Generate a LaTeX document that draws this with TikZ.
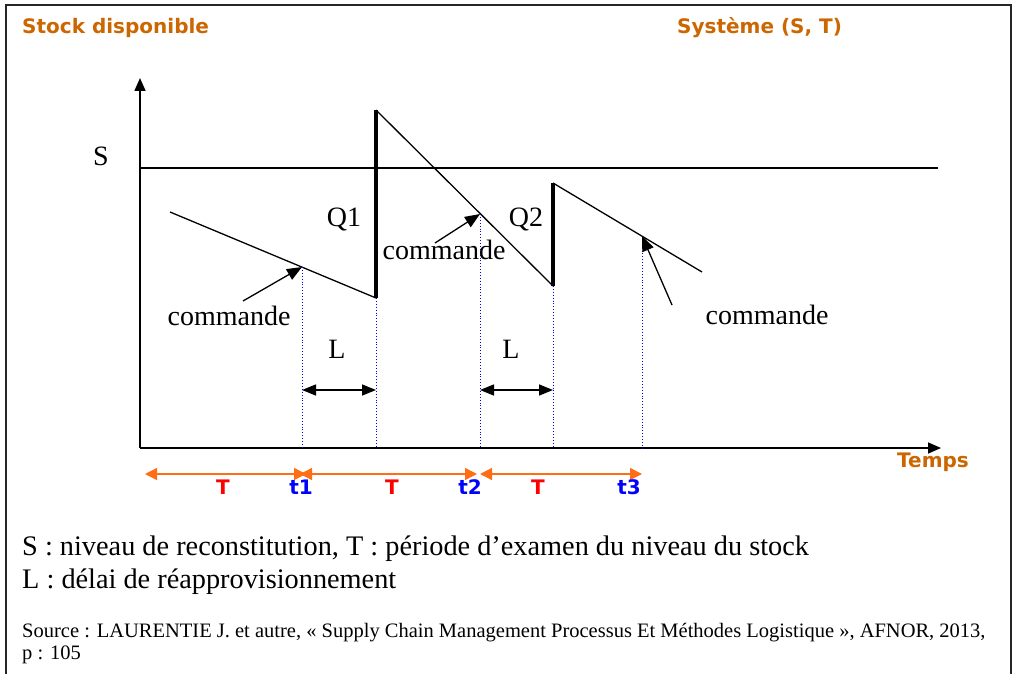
\documentclass[tikz,border=0pt]{standalone}
\usepackage{fontspec}
\setmainfont{Liberation Serif}
\newfontfamily\hdfont{DejaVu Sans}
\usetikzlibrary{arrows.meta}
\definecolor{hdorange}{RGB}{204,102,0}
\definecolor{arrorange}{RGB}{255,110,20}
\begin{document}
\begin{tikzpicture}[x=1pt,y=-1pt,
  axis/.style={line width=1.6pt,-{Triangle[width=11pt,length=13pt]}},
  curve/.style={line width=1.3pt},
  qline/.style={line width=4pt},
  guide/.style={blue,dotted,line width=0.9pt},
  larrow/.style={line width=1.5pt,{Triangle[width=11pt,length=14pt]}-{Triangle[width=11pt,length=14pt]}},
  cmdarrow/.style={line width=1.3pt,-{Triangle[width=12pt,length=15pt]}},
  tarrow/.style={arrorange,line width=1.4pt,{Triangle[width=12pt,length=12pt]}-{Triangle[width=12pt,length=12pt]}},
  lbl/.style={font=\fontsize{28}{30}\selectfont,inner sep=0pt,anchor=base},
  hdlbl/.style={font=\hdfont\bfseries\fontsize{20}{22}\selectfont,text=hdorange,inner sep=0pt,anchor=base west},
  tlbl/.style={font=\hdfont\bfseries\fontsize{20}{22}\selectfont,inner sep=0pt,anchor=base},
  body/.style={font=\fontsize{28.3}{30}\selectfont,inner sep=0pt,anchor=base west},
  src/.style={font=\fontsize{20.5}{22}\selectfont,inner sep=0pt,anchor=base west}
]
\useasboundingbox (0,0) rectangle (1014,674);
% frame
\draw[line width=2pt,black!85] (6,674) -- (6,5) -- (1011,5) -- (1011,674);

% headers
\node[hdlbl] (h1) at (22,34) {Stock disponible};
\node[hdlbl] (h2) at (677,34) {Système (S, T)};

% axes
\coordinate (O) at (140,448);
\coordinate (ytop) at (140,78);
\coordinate (xend) at (941,448);
\draw[axis] (O) -- (ytop);
\draw[axis] (O) -- (xend);

% S level
\coordinate (Sl) at (140,168);
\coordinate (Sr) at (938,168);
\draw[line width=1.3pt] (Sl) -- (Sr);
\node[lbl] (S) at (101,165) {S};

% stock curve
\coordinate (a0) at (170,212);
\coordinate (a1) at (376,298);
\coordinate (a2) at (376,110);
\coordinate (a3) at (553,286);
\coordinate (a4) at (553,183);
\coordinate (a5) at (702,272);
\coordinate (c1) at (302,267);
\coordinate (c2) at (480,214);
\coordinate (c3) at (642,236);
\draw[curve] (a0) -- (a1);
\draw[curve] (a2) -- (a3);
\draw[curve] (a4) -- (a5);
\draw[qline] (a1) -- (a2);
\draw[qline] (a3) -- (a4);

% axis feet
\coordinate (b1) at (302,448);
\coordinate (b2) at (376,448);
\coordinate (b3) at (480,448);
\coordinate (b4) at (553,448);
\coordinate (b5) at (642,448);
\draw[guide] (c1) -- (b1);
\draw[guide] (a1) -- (b2);
\draw[guide] (c2) -- (b3);
\draw[guide] (a3) -- (b4);
\draw[guide] (c3) -- (b5);

% Q labels
\node[lbl] (Q1) at (344,226) {Q1};
\node[lbl] (Q2) at (526,226) {Q2};

% commande arrows
\node[lbl] (cm1) at (229,325) {commande};
\node[lbl] (cm2) at (444,259) {commande};
\node[lbl] (cm3) at (767,324) {commande};
\coordinate (k1) at (243,301);
\coordinate (k2) at (435,243);
\coordinate (k3) at (672,305);
\draw[cmdarrow] (k1) -- (c1);
\draw[cmdarrow] (k2) -- (c2);
\draw[cmdarrow] (k3) -- (c3);

% L arrows
\coordinate (l1a) at (302,390);
\coordinate (l1b) at (376,390);
\coordinate (l2a) at (480,390);
\coordinate (l2b) at (553,390);
\draw[larrow] (l1a) -- (l1b);
\draw[larrow] (l2a) -- (l2b);
\node[lbl] (L1) at (337,358) {L};
\node[lbl] (L2) at (511,358) {L};

% T periods
\coordinate (p0) at (145,474);
\coordinate (p1a) at (306,474);
\coordinate (p1b) at (300,474);
\coordinate (p2a) at (477,474);
\coordinate (p2b) at (480,474);
\coordinate (p3) at (642,474);
\draw[tarrow] (p0) -- (p1a);
\draw[tarrow] (p1b) -- (p2a);
\draw[tarrow] (p2b) -- (p3);
\node[tlbl,text=red] (T1) at (223,494) {T};
\node[tlbl,text=red] (T2) at (392,494) {T};
\node[tlbl,text=red] (T3) at (538,494) {T};
\node[tlbl,text=blue] (t1) at (301,494) {t1};
\node[tlbl,text=blue] (t2) at (470,494) {t2};
\node[tlbl,text=blue] (t3) at (629,494) {t3};
\node[tlbl,text=hdorange] (temps) at (933,467) {Temps};

% legend
\node[body] (leg1) at (22,555) {S : niveau de reconstitution, T : période d’examen du niveau du stock};
\node[body] (leg2) at (22,588) {L : délai de réapprovisionnement};
\node[src] (src1) at (22,637) {Source : LAURENTIE J. et autre, «~Supply Chain Management Processus Et Méthodes Logistique~», AFNOR, 2013,};
\node[src] (src2) at (22,659) {p : 105};
\end{tikzpicture}
\end{document}
